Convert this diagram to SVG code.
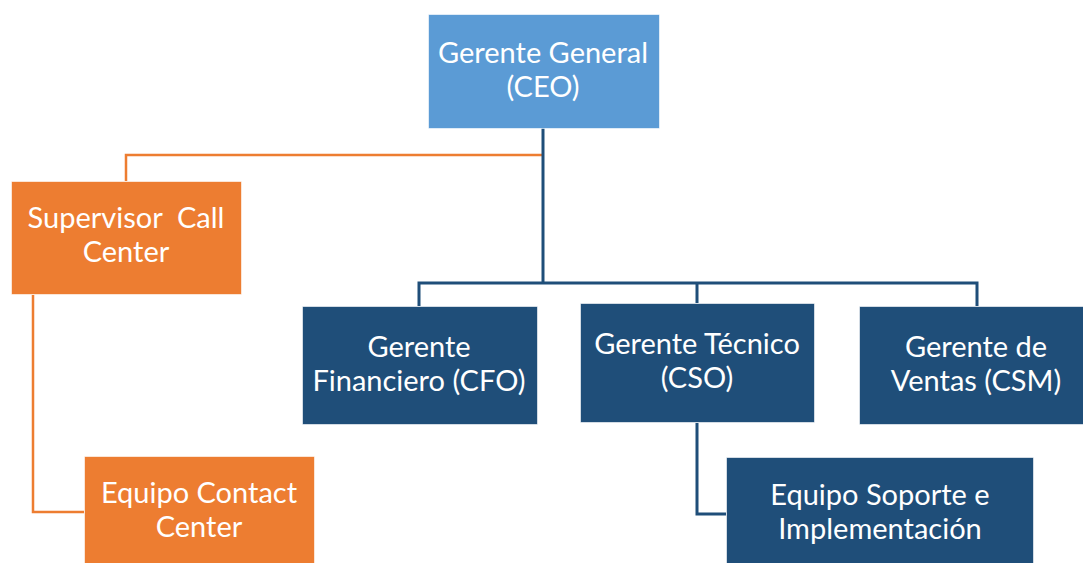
<svg xmlns="http://www.w3.org/2000/svg" width="1083" height="563" viewBox="0 0 1083 563">
<style>
.box{stroke:#ffffff;stroke-width:1;stroke-opacity:0.6}
.ceo{fill:#5B9BD5}
.org{fill:#ED7D31}
.dk{fill:#1F4E79}
.t{font-family:Lato,"Noto Sans",sans-serif;font-size:29px;fill:#ffffff;text-anchor:middle}
.lo{fill:none;stroke:#ED7D31;stroke-width:2.5}
.lb{fill:none;stroke:#1F4E79;stroke-width:3}
</style>
<rect width="1083" height="563" fill="#ffffff"/>
<g id="connectors">
<polyline class="lo" points="126,181 126,155 543,155"/>
<polyline class="lo" points="33,295 33,512 84,512"/>
<polyline class="lb" points="543,128 543,283"/>
<polyline class="lb" points="419,306 419,283 977,283 977,306"/>
<polyline class="lb" points="697,283 697,303"/>
<polyline class="lb" points="697,423 697,514 726,514"/>
</g>
<g id="ceo">
<rect class="box ceo" x="428.5" y="14.5" width="231" height="114"/>
<text class="t" x="543" y="63">Gerente General</text>
<text class="t" x="543" y="97">(CEO)</text>
</g>
<g id="supervisor">
<rect class="box org" x="11.5" y="181.5" width="230" height="113"/>
<text class="t" x="126" y="228" xml:space="preserve">Supervisor  Call</text>
<text class="t" x="126" y="262">Center</text>
</g>
<g id="cfo">
<rect class="box dk" x="302.5" y="306.5" width="235" height="118"/>
<text class="t" x="419" y="357">Gerente</text>
<text class="t" x="419" y="391">Financiero (CFO)</text>
</g>
<g id="cso">
<rect class="box dk" x="580.5" y="303.5" width="234" height="119"/>
<text class="t" x="697" y="354">Gerente Técnico</text>
<text class="t" x="697" y="388">(CSO)</text>
</g>
<g id="csm">
<rect class="box dk" x="859.5" y="306.5" width="224" height="118"/>
<text class="t" x="976" y="357">Gerente de</text>
<text class="t" x="976" y="391">Ventas (CSM)</text>
</g>
<g id="contact">
<rect class="box org" x="84.5" y="456.5" width="230" height="107"/>
<text class="t" x="199" y="503">Equipo Contact</text>
<text class="t" x="199" y="537">Center</text>
</g>
<g id="soporte">
<rect class="box dk" x="726.5" y="457.5" width="307" height="106"/>
<text class="t" x="880" y="505">Equipo Soporte e</text>
<text class="t" x="880" y="539">Implementación</text>
</g>
</svg>
